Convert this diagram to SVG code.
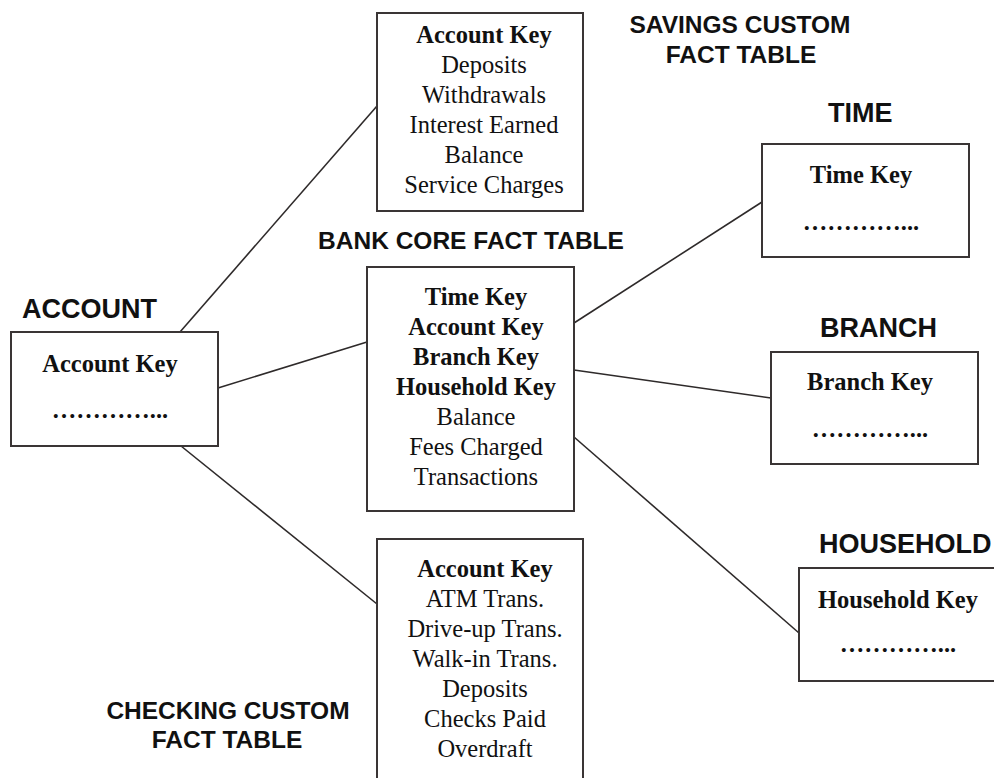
<svg xmlns="http://www.w3.org/2000/svg" width="994" height="778" viewBox="0 0 994 778">
<style>
.box{fill:#fff;stroke:#3a3535;stroke-width:2}
.conn{stroke:#2e2a2a;stroke-width:1.6;fill:none}
.title{font-family:"Liberation Sans",Arial,sans-serif;font-weight:bold;font-size:27px;fill:#111}
.ftitle{font-family:"Liberation Sans",Arial,sans-serif;font-weight:bold;font-size:24.5px;fill:#111;text-anchor:middle}
.k{font-family:"Liberation Serif","Times New Roman",serif;font-weight:bold;font-size:24.5px;fill:#111;text-anchor:middle}
.f{font-family:"Liberation Serif","Times New Roman",serif;font-size:24.5px;fill:#111;text-anchor:middle}
</style>
<rect width="994" height="778" fill="#fff"/>
<g id="connectors">
<line class="conn" x1="180" y1="332" x2="377" y2="106"/>
<line class="conn" x1="218" y1="388" x2="367" y2="342"/>
<line class="conn" x1="181" y1="446" x2="377" y2="604"/>
<line class="conn" x1="574" y1="323" x2="762" y2="202"/>
<line class="conn" x1="574" y1="370" x2="771" y2="398"/>
<line class="conn" x1="574" y1="437" x2="799" y2="633"/>
</g>
<g id="savings">
<text class="ftitle" x="740" y="33">SAVINGS CUSTOM</text>
<text class="ftitle" x="741" y="63">FACT TABLE</text>
<rect class="box" x="377" y="13" width="206" height="198"/>
<text class="k" x="484" y="43">Account Key</text>
<text class="f" x="484" y="73">Deposits</text>
<text class="f" x="484" y="103">Withdrawals</text>
<text class="f" x="484" y="133">Interest Earned</text>
<text class="f" x="484" y="163">Balance</text>
<text class="f" x="484" y="193">Service Charges</text>
</g>
<g id="account">
<text class="title" x="22" y="318">ACCOUNT</text>
<rect class="box" x="11" y="332" width="207" height="114"/>
<text class="k" x="110" y="372">Account Key</text>
<text class="k" x="110" y="418">…………...</text>
</g>
<g id="core">
<text class="ftitle" x="471" y="249">BANK CORE FACT TABLE</text>
<rect class="box" x="367" y="267" width="207" height="244"/>
<text class="k" x="476" y="305">Time Key</text>
<text class="k" x="476" y="335">Account Key</text>
<text class="k" x="476" y="365">Branch Key</text>
<text class="k" x="476" y="395">Household Key</text>
<text class="f" x="476" y="425">Balance</text>
<text class="f" x="476" y="455">Fees Charged</text>
<text class="f" x="476" y="485">Transactions</text>
</g>
<g id="time">
<text class="title" x="828" y="122">TIME</text>
<rect class="box" x="762" y="144" width="207" height="113"/>
<text class="k" x="861" y="183">Time Key</text>
<text class="k" x="861" y="230">…………...</text>
</g>
<g id="branch">
<text class="title" x="820" y="337">BRANCH</text>
<rect class="box" x="771" y="352" width="207" height="112"/>
<text class="k" x="870" y="390">Branch Key</text>
<text class="k" x="870" y="437">…………...</text>
</g>
<g id="household">
<text class="title" x="819" y="553">HOUSEHOLD</text>
<rect class="box" x="799" y="568" width="210" height="113"/>
<text class="k" x="898" y="608">Household Key</text>
<text class="k" x="898" y="652">…………...</text>
</g>
<g id="checking">
<text class="ftitle" x="228" y="719">CHECKING CUSTOM</text>
<text class="ftitle" x="227" y="748">FACT TABLE</text>
<rect class="box" x="377" y="539" width="206" height="250"/>
<text class="k" x="485" y="577">Account Key</text>
<text class="f" x="485" y="607">ATM Trans.</text>
<text class="f" x="485" y="637">Drive-up Trans.</text>
<text class="f" x="485" y="667">Walk-in Trans.</text>
<text class="f" x="485" y="697">Deposits</text>
<text class="f" x="485" y="727">Checks Paid</text>
<text class="f" x="485" y="757">Overdraft</text>
</g>
</svg>
